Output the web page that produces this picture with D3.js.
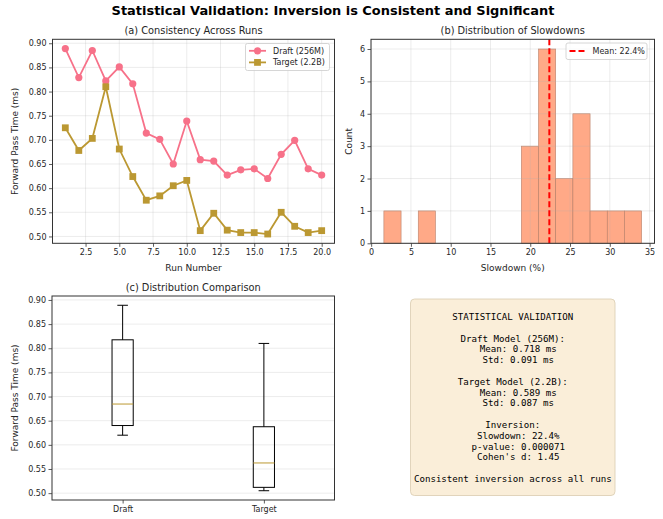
<!DOCTYPE html>
<html>
<head>
<meta charset="utf-8">
<script src="https://cdn.jsdelivr.net/npm/d3@7/dist/d3.min.js"></script>
<style>
  html, body { margin: 0; padding: 0; background: #fff; }
  svg { display: block; font-family: "DejaVu Sans", sans-serif; }
  .mono { font-family: "DejaVu Sans Mono", monospace; white-space: pre; }
</style>
</head>
<body>
<svg id="chart" width="663" height="519"></svg>
<script>
// ---------------- DATA ----------------
const runs = [1,2,3,4,5,6,7,8,9,10,11,12,13,14,15,16,17,18,19,20];
const draftTimes  = [0.889,0.829,0.885,0.822,0.851,0.816,0.714,0.701,0.650,0.739,
                     0.659,0.656,0.627,0.638,0.640,0.620,0.670,0.699,0.640,0.627];
const targetTimes = [0.725,0.678,0.703,0.810,0.681,0.624,0.575,0.584,0.605,0.616,
                     0.512,0.548,0.513,0.508,0.508,0.505,0.550,0.521,0.508,0.512];
const seriesNames = ["Draft (256M)", "Target (2.2B)"];
const histEdges  = [1.6,3.76,5.92,8.08,10.24,12.4,14.56,16.72,18.88,21.04,23.2,25.36,27.52,29.68,31.84,34.0];
const histCounts = [1,0,1,0,0,0,0,0,3,6,2,4,1,1,1];
const meanSlowdown = 22.4;
const boxCategories = ["Draft", "Target"];
const timeTicks = [0.50,0.55,0.60,0.65,0.70,0.75,0.80,0.85,0.90];
const runTicks = [2.5,5.0,7.5,10.0,12.5,15.0,17.5,20.0];
const slowTicks = [0,5,10,15,20,25,30,35];
const countTicks = [0,1,2,3,4,5,6];
const statsLines = [
  "STATISTICAL VALIDATION",
  "",
  "Draft Model (256M):",
  "  Mean: 0.718 ms",
  "  Std: 0.091 ms",
  "",
  "Target Model (2.2B):",
  "  Mean: 0.589 ms",
  "  Std: 0.087 ms",
  "",
  "Inversion:",
  "  Slowdown: 22.4%",
  "  p-value: 0.000071",
  "  Cohen's d: 1.45",
  "",
  "Consistent inversion across all runs"
];

// ---------------- STYLE ----------------
const C0 = "#f77189", C1 = "#bb9832";
const spineColor = "#333333", textColor = "#262626", gridColor = "#b0b0b0";
const svg = d3.select("#chart");

// main title
svg.append("text").attr("x", 333).attr("y", 15)
  .attr("text-anchor", "middle").attr("font-size", 12.95).attr("font-weight", "bold")
  .attr("fill", "#000").text("Statistical Validation: Inversion is Consistent and Significant");

function frame(g, x0, x1, y0, y1) {
  g.append("rect").attr("x", x0).attr("y", y0).attr("width", x1 - x0).attr("height", y1 - y0)
    .attr("fill", "none").attr("stroke", spineColor).attr("stroke-width", 1);
}
function styleAxis(sel) {
  sel.select(".domain").remove();
  sel.selectAll(".tick line").attr("stroke", spineColor).attr("stroke-width", 0.8);
  sel.selectAll(".tick text").attr("fill", textColor).attr("font-size", 8)
     .attr("font-family", "DejaVu Sans, sans-serif");
}
function title(x, y, t) {
  svg.append("text").attr("x", x).attr("y", y).attr("text-anchor", "middle")
    .attr("font-size", 9.8).attr("fill", textColor).text(t);
}
function xlabel(x, y, t) {
  svg.append("text").attr("x", x).attr("y", y).attr("text-anchor", "middle")
    .attr("font-size", 9).attr("fill", textColor).text(t);
}
function ylabel(x, y, t) {
  svg.append("text").attr("transform", `translate(${x},${y}) rotate(-90)`)
    .attr("text-anchor", "middle").attr("dy", "0.35em")
    .attr("font-size", 9).attr("fill", textColor).text(t);
}

// y domain shared by (a) and (c): data extent with 5% margin
const allTimes = draftTimes.concat(targetTimes);
const tMin = d3.min(allTimes), tMax = d3.max(allTimes), tPad = (tMax - tMin) * 0.05;
const timeDomain = [tMin - tPad, tMax + tPad];

// ---------------- (a) Consistency Across Runs ----------------
{
  const L = 52.5, R = 334.5, T = 39.3, B = 243.3;
  const xPad = (d3.max(runs) - d3.min(runs)) * 0.05;
  const x = d3.scaleLinear().domain([d3.min(runs) - xPad, d3.max(runs) + xPad]).range([L, R]);
  const y = d3.scaleLinear().domain(timeDomain).range([B, T]);
  const g = svg.append("g");
  // grid
  g.selectAll(".gx").data(runTicks).enter().append("line")
    .attr("x1", d => x(d)).attr("x2", d => x(d)).attr("y1", T).attr("y2", B)
    .attr("stroke", gridColor).attr("stroke-opacity", 0.3).attr("stroke-width", 0.8);
  g.selectAll(".gy").data(timeTicks).enter().append("line")
    .attr("y1", d => y(d)).attr("y2", d => y(d)).attr("x1", L).attr("x2", R)
    .attr("stroke", gridColor).attr("stroke-opacity", 0.3).attr("stroke-width", 0.8);

  const line = d3.line().x((d, i) => x(runs[i])).y(d => y(d));
  g.append("path").datum(draftTimes).attr("d", line).attr("fill", "none")
    .attr("stroke", C0).attr("stroke-width", 1.8);
  g.selectAll(".dc").data(draftTimes).enter().append("circle")
    .attr("cx", (d, i) => x(runs[i])).attr("cy", d => y(d)).attr("r", 3.6).attr("fill", C0);
  g.append("path").datum(targetTimes).attr("d", line).attr("fill", "none")
    .attr("stroke", C1).attr("stroke-width", 1.8);
  g.selectAll(".tc").data(targetTimes).enter().append("rect")
    .attr("x", (d, i) => x(runs[i]) - 3.4).attr("y", d => y(d) - 3.4)
    .attr("width", 6.8).attr("height", 6.8).attr("fill", C1);

  frame(g, L, R, T, B);
  const ax = g.append("g").attr("transform", `translate(0,${B})`)
    .call(d3.axisBottom(x).tickValues(runTicks).tickFormat(d3.format(".1f")).tickSize(3.5).tickPadding(2.5));
  styleAxis(ax);
  const ay = g.append("g").attr("transform", `translate(${L},0)`)
    .call(d3.axisLeft(y).tickValues(timeTicks).tickFormat(d3.format(".2f")).tickSize(3.5).tickPadding(2.5));
  styleAxis(ay);

  title((L + R) / 2, 34, "(a) Consistency Across Runs");
  xlabel((L + R) / 2, 271, "Run Number");
  ylabel(15, (T + B) / 2, "Forward Pass Time (ms)");

  // legend
  const lg = g.append("g");
  lg.append("rect").attr("x", 245.5).attr("y", 43.5).attr("width", 84).attr("height", 27).attr("rx", 2)
    .attr("fill", "#fff").attr("fill-opacity", 0.8).attr("stroke", "#cccccc").attr("stroke-width", 0.8);
  const items = [{c: C0, shape: "circle"}, {c: C1, shape: "square"}];
  items.forEach((it, i) => {
    const cy = 50.8 + i * 11.6;
    lg.append("line").attr("x1", 249).attr("x2", 266).attr("y1", cy).attr("y2", cy)
      .attr("stroke", it.c).attr("stroke-width", 1.8);
    if (it.shape === "circle") lg.append("circle").attr("cx", 257.5).attr("cy", cy).attr("r", 3.6).attr("fill", it.c);
    else lg.append("rect").attr("x", 254.1).attr("y", cy - 3.4).attr("width", 6.8).attr("height", 6.8).attr("fill", it.c);
    lg.append("text").attr("x", 273).attr("y", cy).attr("dy", "0.35em").attr("font-size", 8)
      .attr("fill", textColor).text(seriesNames[i]);
  });
}

// ---------------- (b) Distribution of Slowdowns ----------------
{
  const L = 371, R = 654.5, T = 39.3, B = 243.3;
  const e0 = histEdges[0], e1 = histEdges[histEdges.length - 1], pad = (e1 - e0) * 0.05;
  const x = d3.scaleLinear().domain([e0 - pad, e1 + pad]).range([L, R]);
  const y = d3.scaleLinear().domain([0, d3.max(histCounts) * 1.05]).range([B, T]);
  const g = svg.append("g");
  g.selectAll(".bar").data(histCounts).enter().append("rect")
    .attr("x", (d, i) => x(histEdges[i])).attr("width", (d, i) => x(histEdges[i + 1]) - x(histEdges[i]))
    .attr("y", d => y(d)).attr("height", d => y(0) - y(d))
    .attr("fill", "#ffa07a").attr("fill-opacity", 0.9)
    .attr("stroke", "#b8806a").attr("stroke-width", 0.6);
  // grid on top
  g.selectAll(".gx").data(slowTicks).enter().append("line")
    .attr("x1", d => x(d)).attr("x2", d => x(d)).attr("y1", T).attr("y2", B)
    .attr("stroke", gridColor).attr("stroke-opacity", 0.3).attr("stroke-width", 0.8);
  g.selectAll(".gy").data(countTicks).enter().append("line")
    .attr("y1", d => y(d)).attr("y2", d => y(d)).attr("x1", L).attr("x2", R)
    .attr("stroke", gridColor).attr("stroke-opacity", 0.3).attr("stroke-width", 0.8);
  // mean line
  g.append("line").attr("x1", x(meanSlowdown)).attr("x2", x(meanSlowdown)).attr("y1", T).attr("y2", B)
    .attr("stroke", "#ff0000").attr("stroke-width", 2).attr("stroke-dasharray", "6,3");

  frame(g, L, R, T, B);
  const ax = g.append("g").attr("transform", `translate(0,${B})`)
    .call(d3.axisBottom(x).tickValues(slowTicks).tickFormat(d3.format("d")).tickSize(3.5).tickPadding(2.5));
  styleAxis(ax);
  const ay = g.append("g").attr("transform", `translate(${L},0)`)
    .call(d3.axisLeft(y).tickValues(countTicks).tickFormat(d3.format("d")).tickSize(3.5).tickPadding(2.5));
  styleAxis(ay);

  title((L + R) / 2, 34, "(b) Distribution of Slowdowns");
  xlabel((L + R) / 2, 271, "Slowdown (%)");
  ylabel(349, (T + B) / 2, "Count");

  const lg = g.append("g");
  lg.append("rect").attr("x", 566).attr("y", 43).attr("width", 81).attr("height", 16.5).attr("rx", 2)
    .attr("fill", "#fff").attr("fill-opacity", 0.8).attr("stroke", "#cccccc").attr("stroke-width", 0.8);
  lg.append("line").attr("x1", 569.5).attr("x2", 586).attr("y1", 51).attr("y2", 51)
    .attr("stroke", "#ff0000").attr("stroke-width", 2).attr("stroke-dasharray", "6,3");
  lg.append("text").attr("x", 592.5).attr("y", 51).attr("dy", "0.35em").attr("font-size", 8)
    .attr("fill", textColor).text(`Mean: ${meanSlowdown.toFixed(1)}%`);
}

// ---------------- (c) Distribution Comparison ----------------
{
  const L = 52, R = 334.5, T = 296, B = 500;
  const x = d3.scaleLinear().domain([0.5, 2.5]).range([L, R]);
  const y = d3.scaleLinear().domain(timeDomain).range([B, T]);
  const g = svg.append("g");
  g.selectAll(".gy").data(timeTicks).enter().append("line")
    .attr("y1", d => y(d)).attr("y2", d => y(d)).attr("x1", L).attr("x2", R)
    .attr("stroke", gridColor).attr("stroke-opacity", 0.3).attr("stroke-width", 0.8);

  const groups = [draftTimes, targetTimes];
  const boxW = 0.15, capW = 0.075;
  groups.forEach((vals, i) => {
    const s = vals.slice().sort(d3.ascending);
    const q1 = d3.quantile(s, 0.25), med = d3.quantile(s, 0.5), q3 = d3.quantile(s, 0.75);
    const iqr = q3 - q1;
    const lo = d3.min(s.filter(v => v >= q1 - 1.5 * iqr));
    const hi = d3.max(s.filter(v => v <= q3 + 1.5 * iqr));
    const pos = i + 1;
    const bg = g.append("g");
    bg.append("line").attr("x1", x(pos)).attr("x2", x(pos)).attr("y1", y(q3)).attr("y2", y(hi))
      .attr("stroke", "#000").attr("stroke-width", 1);
    bg.append("line").attr("x1", x(pos)).attr("x2", x(pos)).attr("y1", y(q1)).attr("y2", y(lo))
      .attr("stroke", "#000").attr("stroke-width", 1);
    [lo, hi].forEach(v => bg.append("line").attr("x1", x(pos - capW / 2)).attr("x2", x(pos + capW / 2))
      .attr("y1", y(v)).attr("y2", y(v)).attr("stroke", "#000").attr("stroke-width", 1));
    bg.append("rect").attr("x", x(pos - boxW / 2)).attr("width", x(pos + boxW / 2) - x(pos - boxW / 2))
      .attr("y", y(q3)).attr("height", y(q1) - y(q3))
      .attr("fill", "none").attr("stroke", "#000").attr("stroke-width", 1);
    bg.append("line").attr("x1", x(pos - boxW / 2)).attr("x2", x(pos + boxW / 2))
      .attr("y1", y(med)).attr("y2", y(med)).attr("stroke", C1).attr("stroke-width", 1);
  });

  frame(g, L, R, T, B);
  const ax = g.append("g").attr("transform", `translate(0,${B})`)
    .call(d3.axisBottom(x).tickValues([1, 2]).tickFormat(d => boxCategories[d - 1]).tickSize(3.5).tickPadding(2.5));
  styleAxis(ax);
  const ay = g.append("g").attr("transform", `translate(${L},0)`)
    .call(d3.axisLeft(y).tickValues(timeTicks).tickFormat(d3.format(".2f")).tickSize(3.5).tickPadding(2.5));
  styleAxis(ay);

  title((L + R) / 2, 290.5, "(c) Distribution Comparison");
  ylabel(15, (T + B) / 2, "Forward Pass Time (ms)");
}

// ---------------- (d) Stats text box ----------------
{
  const g = svg.append("g");
  g.append("rect").attr("x", 410.5).attr("y", 299).attr("width", 204.5).attr("height", 196.5).attr("rx", 4)
    .attr("fill", "#f5deb3").attr("fill-opacity", 0.5).attr("stroke", "#d9cbb0").attr("stroke-width", 0.8);
  const cx = 512.8, y0 = 316.7, lh = 10.8;
  g.selectAll(".st").data(statsLines).enter().append("text")
    .attr("class", "mono").attr("x", cx).attr("y", (d, i) => y0 + i * lh).attr("dy", "0.35em")
    .attr("text-anchor", "middle").attr("font-size", 9.15).attr("fill", "#000")
    .attr("xml:space", "preserve").text(d => d);
}
</script>
</body>
</html>
